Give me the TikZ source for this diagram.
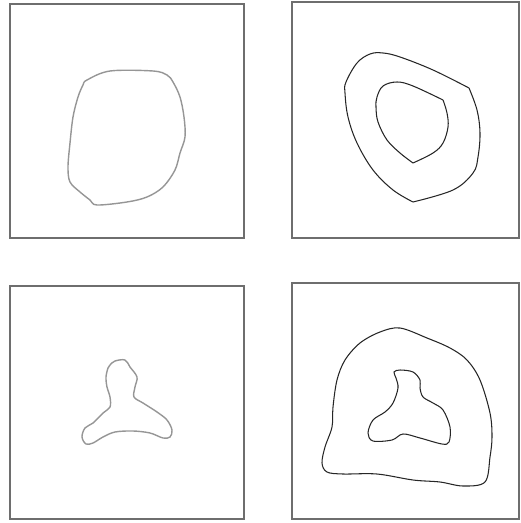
\documentclass[tikz,border=0pt]{standalone}
\usepackage{tikz}
\definecolor{framegray}{RGB}{110,110,110}
\definecolor{curvegray}{RGB}{150,150,150}

\begin{document}
\begin{tikzpicture}[x=0.02cm, y=-0.02cm,
  panel/.style={draw=framegray, line width=0.7pt},
  softcurve/.style={draw=curvegray, line width=0.8pt},
  inkcurve/.style={draw=black!85, line width=0.6pt}]
\useasboundingbox (0,0) rectangle (520,523);

% Panels
\draw[panel] (10,4) rectangle (244,238);
\draw[panel] (292,2) rectangle (519,238);
\draw[panel] (10,286) rectangle (244,519);
\draw[panel] (292,283) rectangle (519,519);

% Top left: single blob
\draw[softcurve] plot[smooth cycle, tension=0.55] coordinates {
  (87,80) (110,71) (153,71) (167,75) (173,82) (180,97) (184,117)
  (185,137) (180,153) (175,170) (163,187) (147,197) (127,202)
  (97,205) (90,200) (80,192) (70,182) (68,167) (70,143) (73,117)
  (78,97) (83,85)};

% Top right: outer ring
\draw[inkcurve] plot[smooth, tension=0.6] coordinates {
  (413,202) (393,190) (373,170) (357,143) (348,117) (345,93)
  (346,82) (357,63) (370,54) (383,53) (400,57) (433,70) (469,88)};
\draw[inkcurve] plot[smooth, tension=0.6] coordinates {
  (469,88) (477,110) (480,133) (478,157) (473,173) (453,190) (413,202)};

% Top right: inner ring
\draw[inkcurve] plot[smooth, tension=0.6] coordinates {
  (413,163) (400,153) (387,140) (378,122) (376,107) (377,97)
  (383,86) (397,82) (413,86) (443,100)};
\draw[inkcurve] plot[smooth, tension=0.6] coordinates {
  (443,100) (447,113) (448,127) (443,143) (433,153) (413,163)};

% Bottom left: tripod
\draw[softcurve] plot[smooth cycle, tension=0.55] coordinates {
  (110,365) (115,361) (125,360) (130,367) (137,377) (135,387)
  (134,397) (143,403) (157,412) (167,420) (172,430) (170,437)
  (163,438) (150,433) (133,431) (115,432) (103,437) (93,443)
  (86,444) (82,437) (85,428) (93,423) (103,413) (110,407)
  (110,397) (107,387) (106,377) (108,368)};

% Bottom right: outer contour
\draw[inkcurve] plot[smooth cycle, tension=0.55] coordinates {
  (400,328) (380,332) (360,343) (345,360) (337,380) (333,407)
  (332,427) (325,447) (322,463) (327,472) (343,474) (377,474)
  (413,480) (440,482) (463,486) (485,482) (490,457) (492,437)
  (490,413) (480,380) (467,360) (450,348) (427,338)};

% Bottom right: inner tripod
\draw[inkcurve] plot[smooth cycle, tension=0.55] coordinates {
  (394,372) (400,370) (413,372) (420,380) (420,388) (423,397)
  (433,403) (443,410) (450,427) (449,442) (442,444) (420,438)
  (403,434) (392,440) (373,441) (368,433) (373,420) (385,412)
  (393,403) (398,388) (396,378)};
\end{tikzpicture}
\end{document}
